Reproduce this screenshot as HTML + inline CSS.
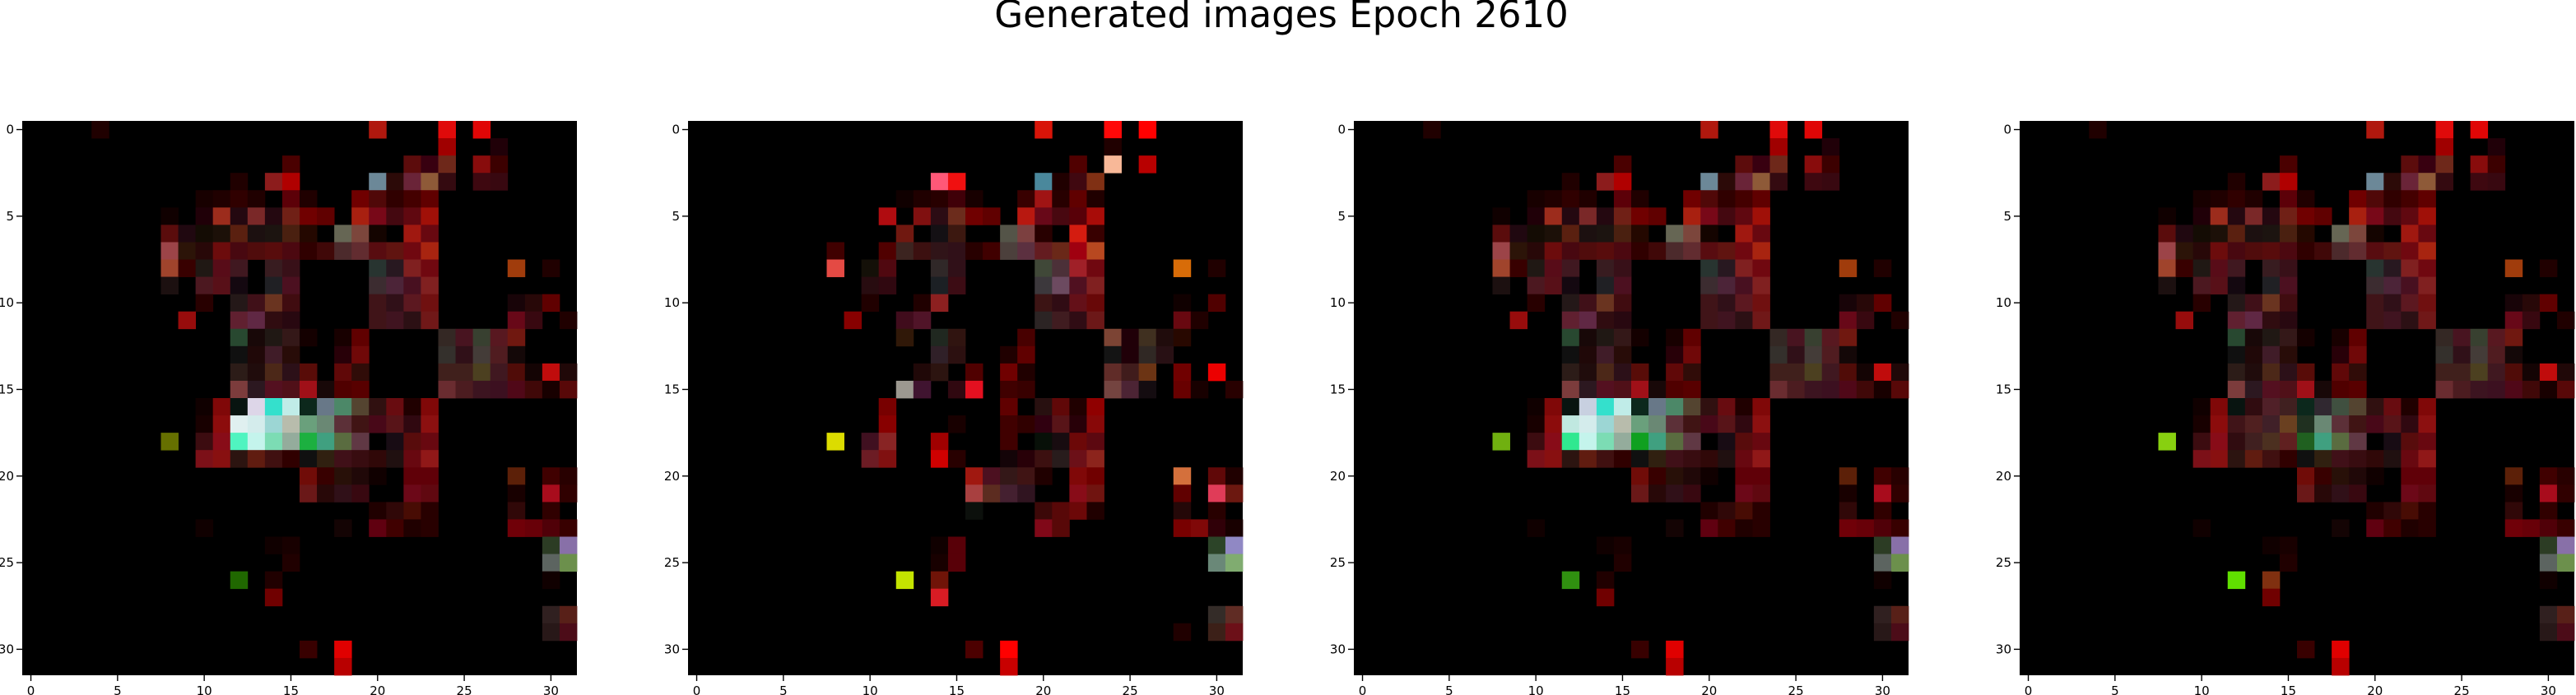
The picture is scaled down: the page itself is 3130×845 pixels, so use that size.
<!DOCTYPE html>
<html><head><meta charset="utf-8"><style>
html,body{margin:0;padding:0;background:#fff;}
svg{display:block;font-family:"DejaVu Sans","Liberation Sans",sans-serif;}
</style></head><body>
<svg id="fig" width="3130" height="845" viewBox="0 0 3130 845" xmlns="http://www.w3.org/2000/svg">
<rect width="3130" height="845" fill="#fff"/>
<text x="1557" y="33" font-size="45" text-anchor="middle" fill="#000">Generated images Epoch 2610</text>
</svg>
<script>
const tickValues = [0,5,10,15,20,25,30];
const gridSize = 32;
const panel1Cells = "0,4,#200000;0,20,#b0180e;0,24,#e00a0a;0,26,#e00606;1,24,#a00000;1,27,#200008;2,15,#4a0000;2,22,#5c0c0c;2,23,#380010;2,24,#6e281a;2,26,#880c0c;2,27,#3c0000;3,12,#200000;3,14,#8c1c1c;3,15,#b00000;3,20,#6c8898;3,21,#2c0a08;3,22,#6a2438;3,23,#8e5a38;3,24,#340a10;3,26,#3e0810;3,27,#380810;4,10,#180000;4,11,#200000;4,12,#300000;4,13,#200000;4,15,#5c0008;4,16,#200000;4,19,#700000;4,20,#500808;4,21,#300000;4,22,#440000;4,23,#600000;5,8,#100000;5,10,#200008;5,11,#9c2c1c;5,12,#240810;5,13,#7a2828;5,14,#240810;5,15,#702016;5,16,#700000;5,17,#600000;5,19,#a82010;5,20,#780818;5,21,#440810;5,22,#600810;5,23,#a01008;6,8,#5a0c0c;6,9,#200810;6,10,#140c04;6,11,#1c1008;6,12,#5a2010;6,13,#1c1010;6,14,#1c1410;6,15,#4a2010;6,16,#240800;6,18,#666654;6,19,#7c463c;6,20,#140400;6,22,#a01810;6,23,#680810;7,8,#9c4448;7,9,#2c1408;7,10,#280808;7,11,#6c0c0c;7,12,#480810;7,13,#500c0c;7,14,#580c0c;7,15,#4c0810;7,16,#300000;7,17,#400808;7,18,#4c2a2c;7,19,#622c30;7,20,#580c10;7,21,#601410;7,22,#700810;7,23,#a82410;8,8,#a0442c;8,9,#380000;8,10,#201814;8,11,#580c18;8,12,#401820;8,14,#381c20;8,15,#381018;8,20,#283430;8,21,#281820;8,22,#802020;8,23,#700810;8,28,#a03c0c;8,30,#200000;9,8,#1c1010;9,10,#4c1820;9,11,#581018;9,12,#140810;9,14,#202024;9,15,#4c1020;9,20,#3c2c30;9,21,#4c2438;9,22,#481020;9,23,#802020;10,10,#280000;10,12,#241818;10,13,#401018;10,14,#6a3420;10,15,#400c10;10,20,#401418;10,21,#301018;10,22,#5c1820;10,23,#701010;10,28,#180408;10,29,#280808;10,30,#600000;11,9,#980c0c;11,12,#602030;11,13,#602844;11,14,#300c10;11,15,#280810;11,20,#401418;11,21,#401420;11,22,#2c1014;11,23,#701818;11,28,#680818;11,29,#380810;11,31,#200000;12,12,#284830;12,13,#180808;12,14,#201814;12,15,#341818;12,16,#140000;12,18,#180000;12,19,#600000;12,24,#342824;12,25,#481420;12,26,#384030;12,27,#581820;12,28,#701810;13,12,#101010;13,13,#200808;13,14,#401c28;13,15,#280c08;13,18,#280008;13,19,#700808;13,24,#34302c;13,25,#301018;13,26,#443c38;13,27,#501c20;13,28,#140808;14,12,#2c1c18;14,13,#200c0c;14,14,#4c2818;14,15,#2c1018;14,16,#580c08;14,18,#600808;14,19,#300c08;14,24,#40201c;14,25,#40201c;14,26,#4c4020;14,27,#401820;14,28,#500c08;14,29,#140404;14,30,#c00c0c;14,31,#200808;15,12,#7c3c3c;15,13,#2c1820;15,14,#541020;15,15,#501018;15,16,#a01018;15,17,#180808;15,18,#500000;15,19,#580000;15,24,#6a2c30;15,25,#4c1c20;15,26,#3c1420;15,27,#3c1020;15,28,#500818;15,29,#400808;15,30,#180000;15,31,#580808;16,10,#100000;16,11,#800808;16,12,#081410;16,13,#ddd6e8;16,14,#34e0cc;16,15,#c0ece8;16,16,#0c281c;16,17,#687888;16,18,#4c8868;16,19,#544430;16,20,#301010;16,21,#680c10;16,22,#200000;16,23,#800808;17,10,#180000;17,11,#8c0c0c;17,12,#e0f0f0;17,13,#d4ecec;17,14,#9cd6d4;17,15,#b8bcac;17,16,#6aa07c;17,17,#6a8874;17,18,#5c3038;17,19,#401414;17,20,#480818;17,21,#581418;17,22,#300810;17,23,#8c1010;18,8,#667000;18,10,#3c0c10;18,11,#880c18;18,12,#50f4c0;18,13,#c4f4ec;18,14,#7cdcb4;18,15,#94ac9c;18,16,#1cb040;18,17,#40a080;18,18,#5a6c40;18,19,#603844;18,21,#180c14;18,22,#580c0c;18,23,#680810;19,10,#7c1018;19,11,#881010;19,12,#2c1410;19,13,#601c10;19,14,#401010;19,15,#300000;19,16,#101010;19,17,#302010;19,18,#401018;19,19,#380c10;19,20,#300808;19,21,#201010;19,22,#680810;19,23,#901818;20,16,#700c08;20,17,#380000;20,18,#281008;20,19,#200808;20,20,#100000;20,22,#600008;20,23,#600008;20,28,#5c2008;20,30,#400000;20,31,#280000;21,16,#6a1818;21,17,#280808;21,18,#301018;21,19,#380810;21,22,#6c0818;21,23,#600810;21,28,#180000;21,30,#a80c1c;21,31,#300000;22,20,#200000;22,21,#300808;22,22,#480c04;22,23,#280000;22,28,#300808;22,30,#300000;23,10,#100000;23,18,#140404;23,20,#600010;23,21,#400000;23,22,#200000;23,23,#280000;23,28,#700008;23,29,#680008;23,30,#500008;23,31,#380000;24,14,#100000;24,15,#180000;24,30,#2c3c24;24,31,#8870a8;25,15,#200000;25,30,#5c6460;25,31,#6c904c;26,12,#206800;26,14,#200000;26,30,#100000;27,14,#700000;28,30,#302020;28,31,#582018;29,30,#281818;29,31,#4c0c18;30,16,#380000;30,18,#e00000;31,18,#b80000";
const panel2Cells = "0,20,#d81408;0,24,#ff0808;0,26,#ff0000;1,24,#200000;2,22,#500000;2,24,#f8b898;2,26,#b80000;3,14,#ff5878;3,15,#f01010;3,20,#4a889c;3,21,#200000;3,22,#400810;3,23,#803014;4,12,#100000;4,13,#200000;4,14,#280000;4,15,#400008;4,16,#180000;4,19,#380000;4,20,#a01414;4,21,#280000;4,22,#600000;4,23,#200000;5,11,#b00c10;5,13,#801010;5,14,#2c0c14;5,15,#6c2c1c;5,16,#700000;5,17,#600000;5,19,#b81810;5,20,#680818;5,21,#480810;5,22,#580008;5,23,#a80c08;6,12,#701810;6,14,#141014;6,15,#3c1810;6,18,#545448;6,19,#7c4040;6,20,#280000;6,22,#d41c10;6,23,#380000;7,8,#400000;7,11,#500000;7,12,#3c2420;7,13,#3c1010;7,14,#301418;7,15,#301018;7,16,#280000;7,17,#400000;7,18,#4c403c;7,19,#5c3040;7,20,#641c20;7,21,#6a2818;7,22,#a00010;7,23,#b84820;8,8,#e44a44;8,10,#141008;8,11,#500810;8,14,#302828;8,15,#301018;8,20,#404838;8,21,#4c3038;8,22,#a02028;8,23,#700810;8,28,#d86c08;8,30,#200000;9,10,#280c10;9,11,#300810;9,14,#1c2024;9,15,#3c0c14;9,20,#3c383c;9,21,#6c4a60;9,22,#501020;9,23,#802020;10,10,#200000;10,13,#200000;10,14,#8c2020;10,20,#3c1414;10,21,#300c14;10,22,#641018;10,23,#680808;10,28,#100000;10,30,#500000;11,9,#880000;11,12,#400c1c;11,13,#501428;11,20,#2c2424;11,21,#401c20;11,22,#300c14;11,23,#6c1818;11,28,#680810;11,29,#200000;12,12,#301808;12,14,#202820;12,15,#301410;12,19,#480000;12,24,#7c4434;12,25,#200008;12,26,#403020;12,27,#200c0c;12,28,#280800;13,14,#302028;13,15,#2c1010;13,18,#200000;13,19,#600000;13,24,#141414;13,25,#200008;13,26,#302824;13,27,#281014;14,13,#200808;14,14,#2c1410;14,16,#500000;14,18,#700000;14,19,#200000;14,24,#602c28;14,25,#401c1c;14,26,#6c3414;14,28,#700000;14,30,#ec0000;15,12,#9c9890;15,13,#401430;15,15,#300810;15,16,#e41020;15,18,#400000;15,19,#380000;15,24,#744440;15,25,#4c2434;15,26,#140c10;15,28,#680000;15,29,#180000;15,31,#280000;16,11,#780000;16,18,#600000;16,20,#281010;16,21,#600808;16,22,#200000;16,23,#900000;17,11,#880000;17,15,#180000;17,18,#400000;17,19,#300000;17,20,#300010;17,21,#581418;17,22,#280008;17,23,#880808;18,8,#dcdc00;18,10,#401020;18,11,#882424;18,14,#a00000;18,18,#400000;18,20,#081008;18,21,#180c10;18,22,#6c0808;18,23,#5c0810;19,10,#6c1c24;19,11,#801010;19,14,#d00000;19,15,#280000;19,18,#140408;19,19,#280008;19,20,#3c1010;19,21,#281c1c;19,22,#6c1018;19,23,#8c241c;20,16,#a01810;20,17,#4c1020;20,18,#341818;20,19,#401414;20,20,#200000;20,22,#800808;20,23,#700000;20,28,#d4703c;20,30,#600808;20,31,#200000;21,16,#a84040;21,17,#5c2c20;21,18,#442030;21,19,#301420;21,22,#880c18;21,23,#701410;21,28,#600000;21,30,#e03c58;21,31,#6c1810;22,16,#0c100c;22,20,#3c0808;22,21,#580808;22,22,#6c0808;22,23,#200000;22,28,#240808;22,30,#280000;23,20,#800818;23,21,#580808;23,28,#780000;23,29,#800808;23,30,#300008;23,31,#180000;24,14,#100000;24,15,#580008;24,30,#2c4428;24,31,#9088c4;25,14,#180000;25,15,#580008;25,30,#6a8878;25,31,#80ac70;26,12,#c4e400;26,14,#701408;27,14,#d81c24;28,30,#342c28;28,31,#602c24;29,28,#200000;29,30,#3c2018;29,31,#6c1018;30,16,#4c0000;30,18,#ff0000;31,18,#c80000";
const panel3Overrides = "18,8,#70b010;26,12,#309010;17,12,#c0e8e0;16,13,#c8d0e0;18,12,#30e890;18,16,#10a020";
const panel4Overrides = "18,8,#88d010;26,12,#60e000;16,13,#300c10;16,14,#502028;16,15,#402020;17,12,#401418;17,13,#502020;17,14,#402028;17,15,#6a4020;18,12,#300c10;18,13,#402020;18,14,#4c3020;18,15,#602020;18,16,#206020;16,17,#302830;16,18,#405040;17,16,#203020;26,14,#803010";

const panelLefts = [27, 836, 1645, 2454];
const panelTop = 147;
const panelSize = 674;

function parseCells(s){ return s.split(';').map(t=>{const p=t.split(',');return {r:+p[0],c:+p[1],col:p[2]};}); }
const p1 = parseCells(panel1Cells);
const p2 = parseCells(panel2Cells);
function merge(base, ov){ const m=new Map(); base.forEach(d=>m.set(d.r+'_'+d.c,d)); parseCells(ov).forEach(d=>m.set(d.r+'_'+d.c,d)); return [...m.values()]; }
const panelsData = [p1, p2, merge(p1,panel3Overrides), merge(p1,panel4Overrides)];

const NS='http://www.w3.org/2000/svg';
const svg=document.getElementById('fig');
function mk(tag, attrs){ const e=document.createElementNS(NS,tag); for(const k in attrs) e.setAttribute(k,attrs[k]); return e; }

panelsData.forEach((cells, pi)=>{
  const x0=panelLefts[pi], cs=panelSize/gridSize;
  const sx=v=>x0+(v+0.5)*cs, sy=v=>panelTop+(v+0.5)*cs;
  const g=mk('g',{});
  
  
  const bg=mk('rect',{x:x0,y:panelTop,width:panelSize,height:panelSize,fill:'#000'});
  
  
  g.appendChild(bg);
  cells.forEach(d=>{
    const r=mk('rect',{x:(sx(d.c)-cs/2).toFixed(2),y:(sy(d.r)-cs/2).toFixed(2),width:(cs+0.4).toFixed(2),height:(cs+0.4).toFixed(2),fill:d.col});
    
    
    g.appendChild(r);
  });
  tickValues.forEach(t=>{
    const yt=mk('line',{x1:x0-7,x2:x0,y1:sy(t),y2:sy(t),stroke:'#000','stroke-width':1.4});
    
    
    g.appendChild(yt);
    const yl=mk('text',{x:x0-10,y:sy(t)+5,'font-size':15,'text-anchor':'end',fill:'#000'});
    yl.textContent=t;
    
    
    g.appendChild(yl);
    const xt=mk('line',{x1:sx(t),x2:sx(t),y1:panelTop+panelSize,y2:panelTop+panelSize+7,stroke:'#000','stroke-width':1.4});
    
    
    g.appendChild(xt);
    const xl=mk('text',{x:sx(t),y:panelTop+panelSize+24,'font-size':15,'text-anchor':'middle',fill:'#000'});
    xl.textContent=t;
    
    
    g.appendChild(xl);
  });
  svg.appendChild(g);
});
</script>
</body></html>
